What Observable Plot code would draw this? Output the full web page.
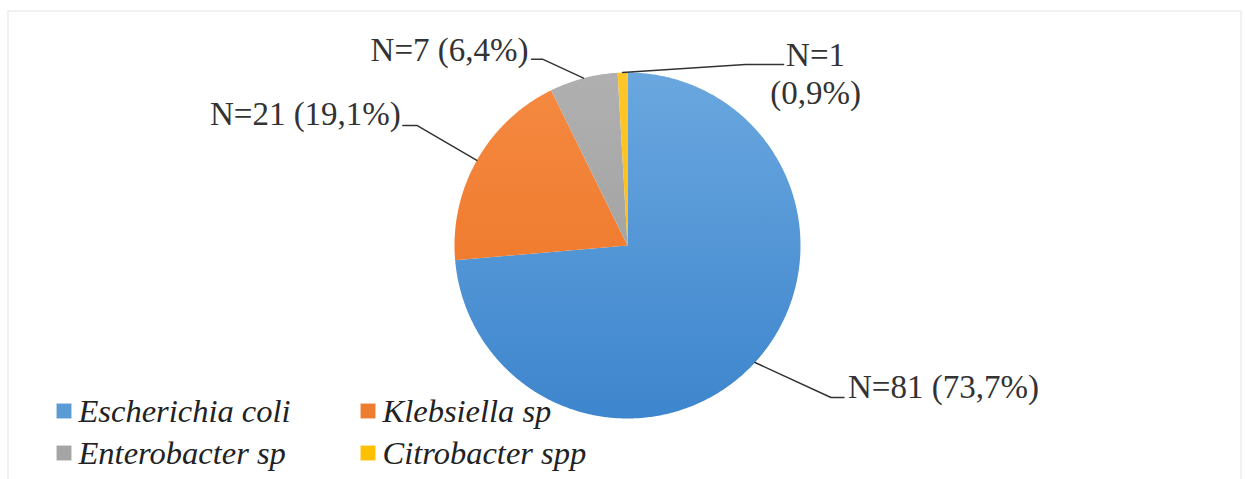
<!DOCTYPE html>
<html><head><meta charset="utf-8">
<script src="https://cdn.jsdelivr.net/npm/d3@7"></script>
<script src="https://cdn.jsdelivr.net/npm/@observablehq/plot@0.6"></script>
<style>
body{margin:0;background:#fff}
svg{display:block}
</style>
</head><body><div id="chart"></div>
<script>
// ---- data ----
const categories = ["Escherichia coli", "Klebsiella sp", "Enterobacter sp", "Citrobacter spp"];
const counts = [81, 21, 7, 1];
const percentLabels = ["73,7%", "19,1%", "6,4%", "0,9%"];

// ---- style / layout ----
const colors = ["#5B9BD5", "#ED7D31", "#A5A5A5", "#FFC000"];
const gradTop = ["#6aa7df", "#f58a42", "#b0b0b0", "#ffc62a"];
const gradBottom = ["#3d85cd", "#eb701f", "#999999", "#f5b800"];
const W = 1245, H = 479;
const cx = 627, cy = 245, R = 173;
const serif = "Liberation Serif";

// label layout: elbow offset from slice edge, horizontal run, text offset from run end
const labelLayout = [
  {elbow: [76, 35], run: 13, text: [4, 1], anchor: "start", multiline: false},
  {elbow: [-60, -35], run: -14, text: [-2, 0], anchor: "end", multiline: false},
  {elbow: [-41, -19], run: -11, text: [-3, 2], anchor: "end", multiline: false},
  {elbow: [123, -8], run: 38, text: [32, 39], anchor: "middle", multiline: true}
];
// legend layout
const legendCols = [63.5, 367.5];
const legendRows = [410.5, 452.5];
const legendTextDx = 14.5;
const legendBaselineDy = 10.5;

const rows = categories.map((c, i) => ({category: c, count: counts[i], pct: percentLabels[i], i}));
const arcs = d3.pie().sort(null).value(d => d.count)(rows);
const polar = (a, r) => [cx + r * Math.sin(a), cy - r * Math.cos(a)];

// slice polygons
const slicePts = [];
arcs.forEach(s => {
  const steps = Math.max(2, Math.ceil((s.endAngle - s.startAngle) / (Math.PI / 360)));
  slicePts.push({category: s.data.category, x: cx, y: cy});
  for (let k = 0; k <= steps; k++) {
    const a = s.startAngle + (s.endAngle - s.startAngle) * k / steps;
    const [x, y] = polar(a, R);
    slicePts.push({category: s.data.category, x, y});
  }
});

// leader lines and labels
const leaderPts = [];
const labels = [];
arcs.forEach((s, i) => {
  const L = labelLayout[i];
  const mid = (s.startAngle + s.endAngle) / 2;
  const [ex, ey] = polar(mid, R);
  const bx = ex + L.elbow[0], by = ey + L.elbow[1];
  const tx = bx + L.run;
  leaderPts.push({category: s.data.category, x: ex, y: ey});
  leaderPts.push({category: s.data.category, x: bx, y: by});
  leaderPts.push({category: s.data.category, x: tx, y: by});
  const txt = L.multiline ? `N=${s.data.count}\n(${s.data.pct})` : `N=${s.data.count} (${s.data.pct})`;
  labels.push({x: tx + L.text[0], y: by + L.text[1], text: txt, anchor: L.anchor});
});

const legend = rows.map((d, i) => ({
  category: d.category,
  x: legendCols[i % 2],
  y: legendRows[Math.floor(i / 2)],
  color: colors[i]
}));

const chart = Plot.plot({
  width: W, height: H, margin: 0,
  style: {background: "#fff", overflow: "visible", fontFamily: serif},
  x: {domain: [0, W], range: [0, W], axis: null},
  y: {domain: [0, H], range: [0, H], axis: null},
  color: {domain: categories, range: categories.map((c, i) => `url(#sliceGrad${i})`)},
  marks: [
    Plot.rect([{x1: 8, y1: 11, x2: 1241, y2: H + 10}], {x1: "x1", y1: "y1", x2: "x2", y2: "y2", fill: "none", stroke: "#e4e4e4", strokeWidth: 1}),
    Plot.line(slicePts, {x: "x", y: "y", z: "category", fill: "category", stroke: "none", curve: "linear-closed"}),
    Plot.line(leaderPts, {x: "x", y: "y", z: "category", stroke: "#333", strokeWidth: 1.5}),
    ...["start", "end", "middle"].map(a => Plot.text(labels.filter(l => l.anchor === a), {
      x: "x", y: "y", text: "text", textAnchor: a, lineAnchor: "bottom", lineHeight: 1.15,
      fontFamily: serif, fontSize: 33, fill: "#333"
    })),
    Plot.dot(legend, {x: "x", y: "y", symbol: "square", r: 8.4, fill: d => d.color, stroke: "none"}),
    Plot.text(legend, {x: d => d.x + legendTextDx, y: d => d.y + legendBaselineDy, text: "category",
      textAnchor: "start", lineAnchor: "bottom", fontFamily: serif, fontSize: 32.5, fontStyle: "italic", fill: "#222"})
  ]
});

// gradients for slices
const defs = d3.select(chart).insert("defs", ":first-child");
colors.forEach((c, i) => {
  const g = defs.append("linearGradient").attr("id", `sliceGrad${i}`)
    .attr("gradientUnits", "userSpaceOnUse")
    .attr("x1", 0).attr("y1", cy - R).attr("x2", 0).attr("y2", cy + R);
  g.append("stop").attr("offset", 0).attr("stop-color", gradTop[i]);
  g.append("stop").attr("offset", 1).attr("stop-color", gradBottom[i]);
});

document.getElementById("chart").append(chart);
</script>
</body></html>
